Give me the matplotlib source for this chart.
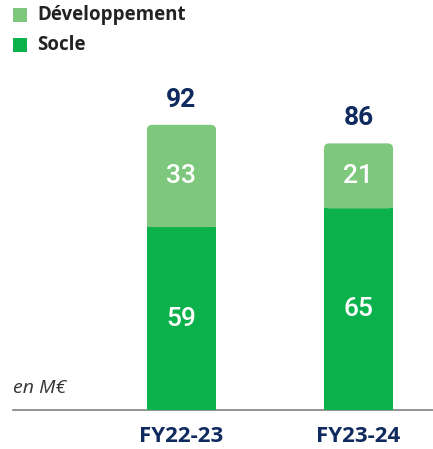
import matplotlib as mpl

mpl.use("Agg")
import matplotlib.pyplot as plt
from matplotlib.patches import FancyBboxPatch, Rectangle

# data
years = ["FY22-23", "FY23-24"]
socle = [59, 65]
developpement = [33, 21]
totals = [92, 86]

light_green = "#7DC87D"
dark_green = "#0BB24B"
navy = "#0F2A5E"

fig = plt.figure(figsize=(4.33, 4.49), dpi=100)
ax = fig.add_axes([13 / 433, 39 / 449, 420 / 433, 351 / 449])
ax.set_xlim(-0.952, 1.421)
ax.set_ylim(0, 351 / 3.1)
ax.axis("off")

x = list(range(len(years)))
width = 0.39

# socle bars
ax.bar(x, socle, width=width, color=dark_green, zorder=2)

# developpement bars with rounded top
r = 0.03
aspect = (5 / 3.1) / r
for xi, s, d in zip(x, socle, developpement):
    box = FancyBboxPatch(
        (xi - width / 2, s), width, d,
        boxstyle="round,pad=0,rounding_size={}".format(r),
        mutation_aspect=aspect, facecolor=light_green, edgecolor="none", zorder=2,
    )
    ax.add_patch(box)
    ax.add_patch(Rectangle((xi - width / 2, s), width, 3,
                           facecolor=light_green, edgecolor="none", zorder=2))

for xi, s, d, t in zip(x, socle, developpement, totals):
    ax.text(xi, s / 2, str(s), color="white", ha="center", va="center", zorder=3,
            family="Roboto", weight="medium", size=19)
    ax.text(xi, s + d / 2, str(d), color="white", ha="center", va="center", zorder=3,
            family="Roboto", weight="medium", size=19)
    ax.text(xi, t + 4.2, str(t), color=navy, ha="center", va="bottom",
            family="Roboto", weight="bold", size=19)

# baseline
ax.plot([-0.952, 1.421], [0, 0], color="#808080", lw=1.2, clip_on=False, zorder=1)

for xi, lab in zip(x, years):
    ax.text(xi, -8.5, lab, color=navy, ha="center", va="center",
            family="Open Sans", weight="bold", size=16)

ax.text(-0.952, 7, "en M€", color="#333333", ha="left", va="center",
        family="Open Sans", style="italic", size=14)

# legend
for i, (lab, col) in enumerate([("Développement", light_green), ("Socle", dark_green)]):
    y = 1 - (15 + 30 * i) / 449
    fig.patches.append(Rectangle((13 / 433, y - 7 / 449), 14 / 433, 14 / 449,
                                 transform=fig.transFigure, facecolor=col, edgecolor="none"))
    fig.text(37 / 433, y, lab, color="#222222", ha="left", va="center",
             family="Open Sans", weight="bold", size=13.5)

fig.savefig("out.png", dpi=100)
